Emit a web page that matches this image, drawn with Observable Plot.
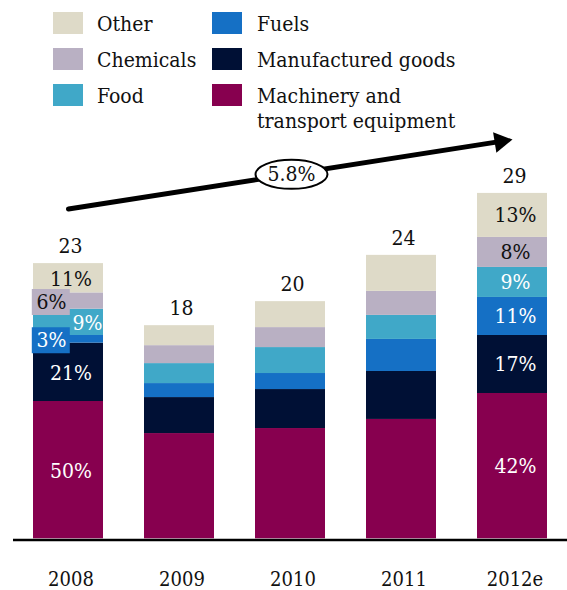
<!DOCTYPE html>
<html><head><meta charset="utf-8">
<script src="https://cdn.jsdelivr.net/npm/d3@7"></script>
<script src="https://cdn.jsdelivr.net/npm/@observablehq/plot@0.6"></script>
<style>
body{margin:0;background:#fff;font-family:"DejaVu Serif Condensed","DejaVu Serif",serif;font-stretch:condensed;}
#legend{position:relative;height:130px;width:567px;}
.sw{position:absolute;width:30px;height:22px;}
.lt{position:absolute;font-size:21px;line-height:25px;color:#111;width:215px;}
svg{display:block}
</style></head><body>
<div id="legend"></div><div id="chart"></div>
<script>
const years = ["2008","2009","2010","2011","2012e"];
const categories = ["Machinery and transport equipment","Manufactured goods","Fuels","Food","Chemicals","Other"];
const colors = ["#87004F","#001035","#1570C5","#40A8C8","#B9B0C3","#DEDAC8"];
const machinery    = [11.48, 8.80, 9.22, 9.98, 12.15];
const manufactured = [4.88, 3.01, 3.26, 4.01, 4.85];
const fuels        = [0.64, 1.17, 1.34, 2.68, 3.18];
const food         = [2.20, 1.67, 2.17, 2.01, 2.51];
const chemicals    = [1.36, 1.50, 1.67, 2.01, 2.51];
const other        = [2.45, 1.67, 2.17, 3.01, 3.68];
const totals = [23, 18, 20, 24, 29];
const shares2008 = ["50%","21%","3%","9%","6%","11%"];
const shares2012 = ["42%","17%","11%","9%","8%","13%"];
const cagr = "5.8%";
const cagrStart = 27.57, cagrEnd = 33.38;
const legendOrder = ["Other","Chemicals","Food","Fuels","Manufactured goods","Machinery and transport equipment"];

const FF = '"DejaVu Serif Condensed","DejaVu Serif",serif';
const series = [machinery, manufactured, fuels, food, chemicals, other];

// legend
const leg = document.getElementById("legend");
legendOrder.forEach((name, i) => {
  const col = Math.floor(i / 3), row = i % 3;
  const sx = col ? 212 : 53, tx = col ? 257 : 97, sy = 12 + row * 36;
  const sw = document.createElement("div");
  sw.className = "sw"; sw.style.left = sx + "px"; sw.style.top = sy + "px";
  sw.style.background = colors[categories.indexOf(name)];
  leg.appendChild(sw);
  const t = document.createElement("div");
  t.className = "lt"; t.style.left = tx + "px"; t.style.top = (sy + 11 - 11) + "px";
  t.textContent = name;
  leg.appendChild(t);
});

// rows
const rows = [];
years.forEach((year, i) => {
  let acc = 0;
  categories.forEach((cat, j) => {
    const v = series[j][i];
    rows.push({year, cat, j, y1: acc, y2: acc + v, mid: acc + v / 2});
    acc += v;
  });
});
const tops = years.map((year, i) => ({year, top: d3.sum(series, s => s[i]), label: String(totals[i])}));
const dark = new Set(["Other","Chemicals"]);
const txtFill = d => dark.has(d.cat) ? "#111" : "#fff";

const r08 = rows.filter(d => d.year === "2008");
const r12 = rows.filter(d => d.year === "2012e");
const lab08 = r08.map(d => ({...d, text: shares2008[d.j]}));
const lab12 = r12.map(d => ({...d, text: shares2012[d.j]}));
const boxed = new Set(["Chemicals","Fuels"]);
const lab08Box = lab08.filter(d => boxed.has(d.cat));
const lab08Right = lab08.filter(d => d.cat === "Food");
const lab08Mid = lab08.filter(d => !boxed.has(d.cat) && d.cat !== "Food");

const rectSym = {draw(ctx){ ctx.moveTo(-19,-13); ctx.lineTo(19,-13); ctx.lineTo(19,13); ctx.lineTo(-19,13); ctx.closePath(); }};
const ellSym = {draw(ctx){
  const rx = 36, ry = 14.5, k = 0.5523;
  ctx.moveTo(rx,0);
  ctx.bezierCurveTo(rx,k*ry,k*rx,ry,0,ry);
  ctx.bezierCurveTo(-k*rx,ry,-rx,k*ry,-rx,0);
  ctx.bezierCurveTo(-rx,-k*ry,-k*rx,-ry,0,-ry);
  ctx.bezierCurveTo(k*rx,-ry,rx,-k*ry,rx,0);
  ctx.closePath();
}};

const arrowRow = [{x1: years[0], x2: years[4], y1: cagrStart, y2: cagrEnd}];
const midRow = [{x: years[2], y: (cagrStart + cagrEnd) / 2, text: cagr}];
const txt = {fontSize: 20, fontFamily: FF};
const big = {fontSize: 21, fontFamily: FF};

const chart = Plot.plot({
  width: 567, height: 460,
  marginLeft: 13, marginRight: 0, marginTop: 0, marginBottom: 51.7,
  x: {domain: years, paddingInner: 0.37, paddingOuter: 0.177, axis: null},
  y: {domain: [0, 34.14], axis: null},
  color: {domain: categories, range: colors},
  style: {fontFamily: FF, background: "#fff"},
  marks: [
    Plot.barY(rows, {x: "year", y1: "y1", y2: "y2", fill: "cat"}),
    Plot.ruleY([0], {stroke: "#000", strokeWidth: 2.5, dy: 1.2}),
    Plot.text(tops, {x: "year", y: "top", text: "label", dy: -17, dx: 2, fill: "#111", ...big}),
    Plot.text(years, {x: d => d, y: () => 0, text: d => d, dy: 41, dx: 2.5, fill: "#111", ...txt}),
    Plot.dot(lab08Box, {x: "year", y: "mid", symbol: rectSym, fill: "cat", dx: -17.7, dy: 1, r: 5}),
    Plot.text(lab08Box, {x: "year", y: "mid", text: "text", dx: -17, dy: 1, fill: txtFill, ...big}),
    Plot.text(lab08Right, {x: "year", y: "mid", text: "text", dx: 19, dy: 1, fill: txtFill, ...big}),
    Plot.text(lab08Mid, {x: "year", y: "mid", text: "text", dx: 2.5, dy: 1, fill: txtFill, ...big}),
    Plot.text(lab12, {x: "year", y: "mid", text: "text", dx: 3, fill: txtFill, ...big}),
    Plot.arrow(arrowRow, {x1: "x1", y1: "y1", x2: "x2", y2: "y2", stroke: "#000", strokeWidth: 5, headLength: 0, insetEnd: 10}),
    Plot.dot(arrowRow, {x: "x2", y: "y2", symbol: "triangle", r: 7.72, fill: "#000", rotate: 80.95, dx: -11.85, dy: 1.89}),
    Plot.dot(midRow, {x: "x", y: "y", symbol: ellSym, r: 5, fill: "#fff", stroke: "#000", strokeWidth: 2, dx: 1}),
    Plot.text(midRow, {x: "x", y: "y", text: "text", dx: 1, fill: "#111", ...big})
  ]
});
document.getElementById("chart").appendChild(chart);
</script>
</body></html>
